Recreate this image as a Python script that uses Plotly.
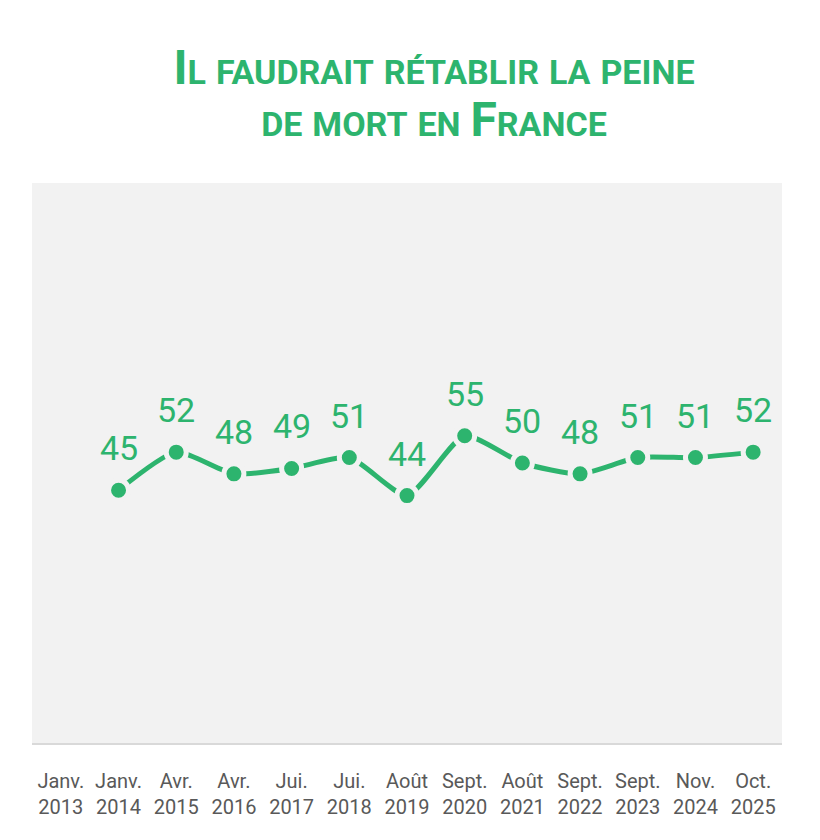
import plotly.graph_objects as go

# poll waves (x axis) and share agreeing, in %
vagues = ["Janv.<br>2013", "Janv.<br>2014", "Avr.<br>2015", "Avr.<br>2016", "Jui.<br>2017",
          "Jui.<br>2018", "Août<br>2019", "Sept.<br>2020", "Août<br>2021", "Sept.<br>2022",
          "Sept.<br>2023", "Nov.<br>2024", "Oct.<br>2025"]
pourcentages = [None, 45, 52, 48, 49, 51, 44, 55, 50, 48, 51, 51, 52]

VERT = "#2db46e"
FOND = "#f2f2f2"
GRIS = "#595959"

fig = go.Figure()
fig.add_trace(go.Scatter(
    x=vagues, y=pourcentages,
    mode="lines+markers",
    line=dict(color=VERT, width=5, shape="spline", smoothing=0.6),
    marker=dict(color=VERT, size=20, line=dict(color=FOND, width=5)),
    connectgaps=False,
    hoverinfo="skip",
))

# value labels above each point
for v, p in zip(vagues, pourcentages):
    if p is None:
        continue
    fig.add_annotation(x=v, y=p, text=str(p), showarrow=False,
                       yanchor="middle", yshift=42,
                       font=dict(family="Roboto", size=34, color=VERT))

def petites_caps(txt, big=48, small=34):
    # fake small caps: capitals big, lower case letters uppercased and smaller
    out = ""
    for c in txt:
        if c == " ":
            out += " "
        elif c.isupper():
            out += f"<span style='font-size:{big}px'>{c}</span>"
        else:
            out += f"<span style='font-size:{small}px'>{c.upper()}</span>"
    return out

titre = petites_caps("Il faudrait rétablir la peine") + "<br>" + petites_caps("de mort en France")

# the page body adds an 8px offset, margins are shifted to compensate
fig.update_layout(
    width=820, height=840,
    margin=dict(l=24, r=46, t=175, b=105),
    paper_bgcolor="white",
    plot_bgcolor=FOND,
    showlegend=False,
    title=dict(text="<b>" + titre + "</b>", x=426 / 820, xanchor="center",
               y=1 - 76 / 840, yanchor="top",
               font=dict(family="Roboto", size=40, color=VERT)),
    xaxis=dict(type="category", range=[-0.5, 12.5], showgrid=False, zeroline=False,
               showline=True, linecolor="#d9d9d9", linewidth=2,
               ticks="", ticklabelstandoff=19,
               tickfont=dict(family="Roboto", size=20, color=GRIS)),
    yaxis=dict(range=[-1.5, 101.5], showgrid=False, zeroline=False, showticklabels=False,
               showline=False),
)

fig.write_html("out.html")
